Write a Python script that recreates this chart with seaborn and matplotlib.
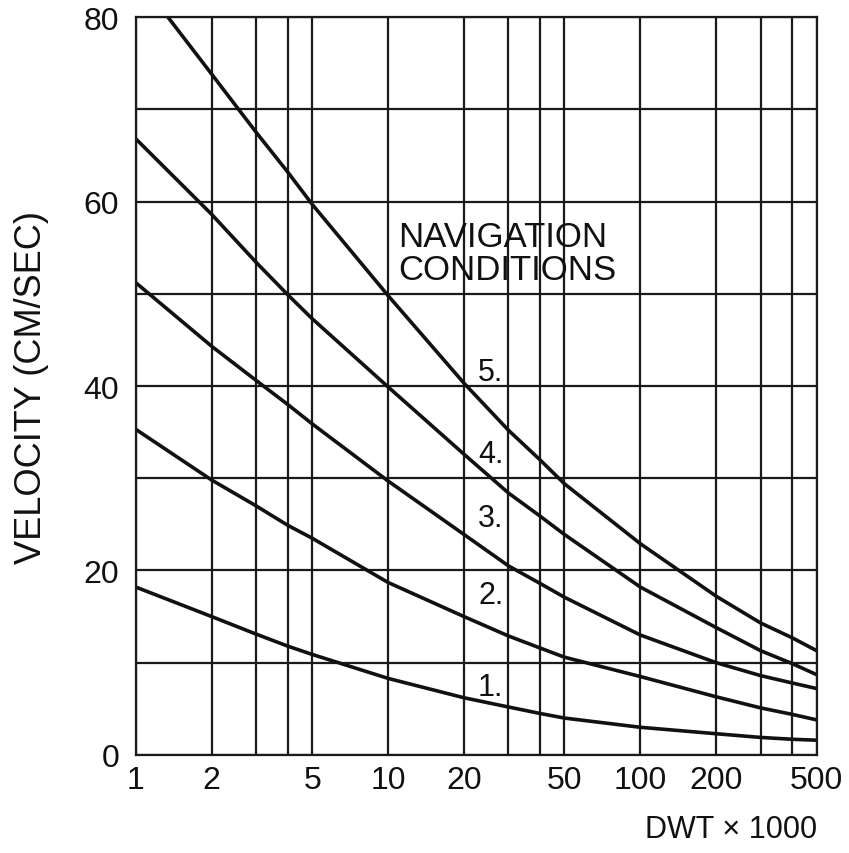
import numpy as np
import pandas as pd
import matplotlib
matplotlib.use('Agg')
import matplotlib.pyplot as plt
import seaborn as sns

dwt_1 = [1, 2, 3, 4, 5, 10, 20, 30, 40, 50, 100, 200, 300, 400, 500]
vel_1 = [18.2, 15.0, 13.1, 11.8, 10.9, 8.3, 6.2, 5.2, 4.5, 4.0, 3.0, 2.3, 1.9, 1.7, 1.6]

dwt_2 = [1, 2, 3, 4, 5, 10, 20, 30, 40, 50, 100, 200, 300, 400, 500]
vel_2 = [35.3, 29.8, 27.0, 24.9, 23.5, 18.7, 15.0, 12.9, 11.6, 10.6, 8.5, 6.3, 5.1, 4.4, 3.8]

dwt_3 = [1, 2, 3, 4, 5, 10, 20, 30, 40, 50, 100, 200, 300, 400, 500]
vel_3 = [51.2, 44.3, 40.6, 38.0, 35.9, 29.7, 23.9, 20.5, 18.6, 17.1, 13.0, 10.0, 8.6, 7.8, 7.2]

dwt_4 = [1, 2, 3, 4, 5, 10, 20, 30, 40, 50, 100, 200, 300, 400, 500]
vel_4 = [66.8, 58.6, 53.4, 49.9, 47.3, 39.9, 32.6, 28.4, 25.9, 23.9, 18.2, 13.8, 11.3, 9.9, 8.7]

dwt_5 = [1.34, 2, 3, 4, 5, 10, 20, 30, 40, 50, 100, 200, 300, 400, 500]
vel_5 = [80.0, 73.8, 67.5, 63.2, 59.7, 49.8, 40.3, 35.2, 32.0, 29.4, 22.9, 17.2, 14.3, 12.7, 11.3]

curvas = {'1.': (dwt_1, vel_1), '2.': (dwt_2, vel_2), '3.': (dwt_3, vel_3),
          '4.': (dwt_4, vel_4), '5.': (dwt_5, vel_5)}

# posicao dos rotulos das curvas
rotulo_x = 25.5
rotulo_y = {'1.': 7.4, '2.': 17.3, '3.': 25.7, '4.': 32.6, '5.': 41.5}

xticks_lbl = [1, 2, 5, 10, 20, 50, 100, 200, 500]
xticks_extra = [3, 4, 30, 40, 300, 400]
yticks_lbl = [0, 20, 40, 60, 80]

sns.set_style('white')
plt.rcParams['font.family'] = ['Liberation Sans', 'DejaVu Sans']

fig = plt.figure(figsize=(8.49, 8.54), dpi=100)
ax = fig.add_axes([0.160, 0.1148, 0.802, 0.864])

for nome, (xs, ys) in curvas.items():
    df = pd.DataFrame({'dwt': xs, 'vel': ys})
    sns.lineplot(data=df, x='dwt', y='vel', ax=ax, color='#111111',
                 linewidth=2.6, estimator=None, sort=True)

ax.set_xscale('log')
ax.set_xlim(1, 500)
ax.set_ylim(0, 80)

ax.set_xticks(xticks_lbl)
ax.set_xticklabels([str(v) for v in xticks_lbl])
ax.set_xticks(xticks_extra, minor=True)
ax.set_xticklabels([], minor=True)
ax.set_yticks(range(0, 81, 10))
ax.set_yticklabels([str(v) if v in yticks_lbl else '' for v in range(0, 81, 10)])

ax.grid(True, which='both', axis='x', color='#1a1a1a', linewidth=1.6)
ax.grid(True, which='major', axis='y', color='#1a1a1a', linewidth=1.6)
ax.tick_params(axis='both', which='both', length=0, labelsize=23, colors='#111111')
ax.tick_params(axis='x', pad=7)
ax.tick_params(axis='y', pad=12)

for s in ax.spines.values():
    s.set_color('#1a1a1a')
    s.set_linewidth(1.6)

for nome, yy in rotulo_y.items():
    ax.text(rotulo_x, yy, nome, fontsize=22, ha='center', va='center', color='#111111')

ax.text(11.0, 54.4, 'NAVIGATION\nCONDITIONS', fontsize=25, ha='left', va='center',
        color='#111111', linespacing=0.98)

ax.set_ylabel('VELOCITY (CM/SEC)', fontsize=26, color='#111111', labelpad=25)
ax.set_xlabel('DWT × 1000', fontsize=22, color='#111111', loc='right', labelpad=14)

fig.savefig('out.png', dpi=100, facecolor='white')
